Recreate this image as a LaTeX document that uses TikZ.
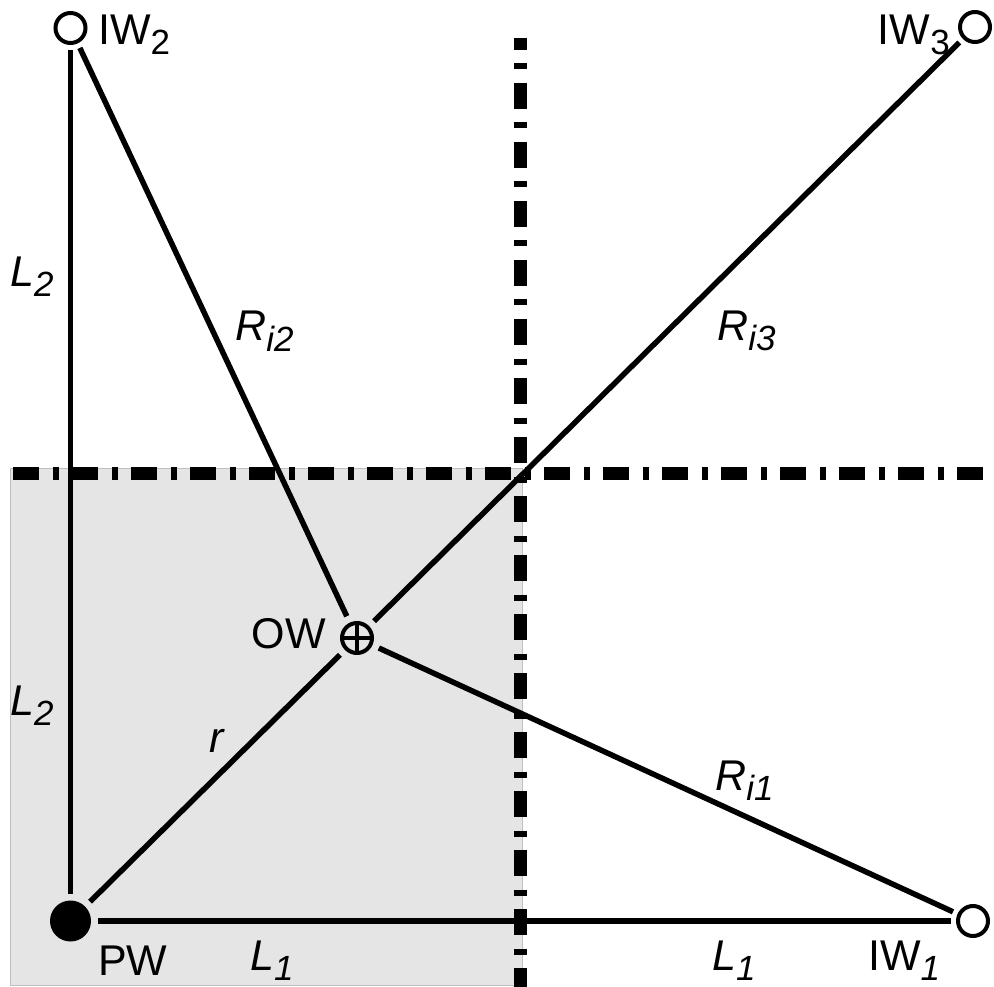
\documentclass[tikz,border=0pt]{standalone}
\usepackage{fontspec}
\setmainfont{Liberation Sans}
\usetikzlibrary{positioning}
\newcommand\wsub[1]{\raisebox{-10pt}{\fontsize{35}{35}\selectfont #1}}

\begin{document}
\begin{tikzpicture}[
  x=1pt, y=-1pt,
  openwell/.style={circle, draw, line width=4pt, minimum size=30pt, inner sep=0pt, outer sep=7pt},
  prodwell/.style={circle, fill=black, minimum size=41pt, inner sep=0pt, outer sep=7pt},
  obswell/.style={circle, draw, line width=4pt, minimum size=30pt, inner sep=0pt, outer sep=9pt,
    path picture={\draw[line width=4pt] (path picture bounding box.north) -- (path picture bounding box.south)
      (path picture bounding box.west) -- (path picture bounding box.east);}},
  lbl/.style={font=\fontsize{43}{43}\selectfont, inner sep=0pt},
  axisline/.style={line width=13pt, dash pattern=on 26pt off 13.5pt on 6pt off 13.5pt},
  link/.style={line width=5.5pt}
]
  \useasboundingbox (0,0) rectangle (994,987);

  \fill[gray!20, draw=black!25, line width=1pt] (10,468) rectangle (522,985);

  \draw[axisline, dash phase=13.7pt] (520,37.7) -- (520,987);
  \draw[axisline] (13.3,473) -- (984,473);

  \node[prodwell] (pw) at (70.5,921) {};
  \node[openwell] (iw1) at (973,921) {};
  \node[openwell] (iw2) at (70.5,28) {};
  \node[openwell] (iw3) at (975,27) {};
  \node[obswell] (ow) at (357,638) {};

  \draw[link] (iw2) -- (pw);
  \draw[link] (pw) -- (iw1);
  \draw[link] (iw2) -- (ow);
  \draw[link] (ow) -- (iw1);
  \draw[link] (pw) -- (ow);
  \draw[link] (ow) -- (iw3);

  \node[lbl, anchor=base west] (iw2lbl) at (98,45) {IW\wsub{2}};
  \node[lbl, anchor=base east] (iw3lbl) at (950,45) {IW\wsub{3}};
  \node[lbl, anchor=base west] (iw1lbl) at (868,970) {IW\wsub{\itshape 1}};
  \node[lbl, anchor=base west] (pwlbl) at (98,975) {PW};
  \node[lbl, anchor=base east] (owlbl) at (326,648) {OW};
  \node[lbl, anchor=base west] (l2top) at (10,287) {\itshape L\wsub{2}};
  \node[lbl, anchor=base west] (l2bot) at (10,715) {\itshape L\wsub{2}};
  \node[lbl, anchor=base west] (l1left) at (250,970) {\itshape L\wsub{1}};
  \node[lbl, anchor=base west] (l1right) at (712,970) {\itshape L\wsub{1}};
  \node[lbl, anchor=base west] (ri2) at (235,341) {\itshape R\wsub{i2}};
  \node[lbl, anchor=base west] (ri3) at (717,340) {\itshape R\wsub{i3}};
  \node[lbl, anchor=base west] (ri1) at (715,790) {\itshape R\wsub{i1}};
  \node[lbl, anchor=base west] (rlbl) at (209,752) {\itshape r};

\end{tikzpicture}
\end{document}
